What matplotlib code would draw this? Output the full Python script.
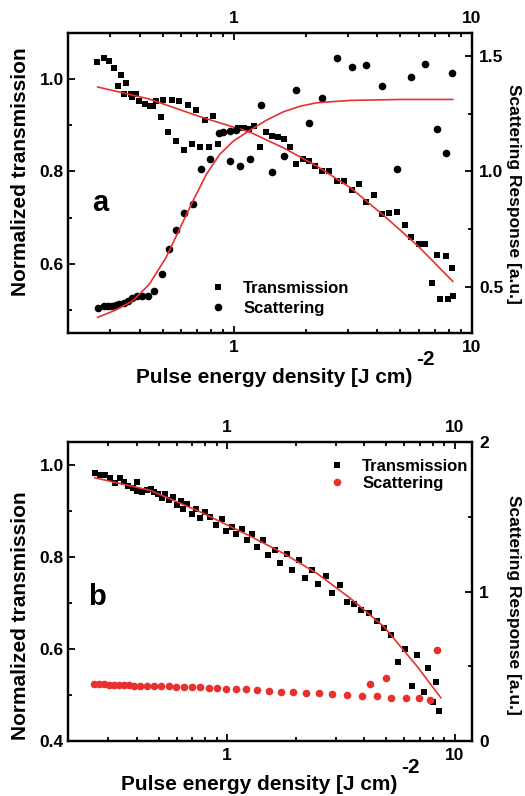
import numpy as np
import matplotlib
matplotlib.use('Agg')
import matplotlib.pyplot as plt
from matplotlib.ticker import FixedLocator, FixedFormatter, NullFormatter, LogLocator
from matplotlib.lines import Line2D

plt.rcParams['font.family'] = ['Liberation Sans', 'DejaVu Sans']
plt.rcParams['font.weight'] = 'bold'

# ---------------- data: panel a ----------------
a_trans_x = [0.265, 0.283, 0.297, 0.313, 0.324, 0.333, 0.344, 0.352, 0.367, 0.373, 0.385, 0.398,
             0.420, 0.441, 0.456, 0.468, 0.492, 0.500, 0.526, 0.546, 0.569, 0.588, 0.614, 0.638,
             0.663, 0.692, 0.720, 0.751, 0.781, 0.817, 0.858, 1.04, 1.10, 1.158, 1.216, 1.289,
             1.363, 1.445, 1.527, 1.614, 1.712, 1.821, 1.943, 2.054, 2.193, 2.340, 2.513, 2.701,
             2.883, 3.116, 3.337, 3.584, 3.864, 4.178, 4.460, 4.836, 5.214, 5.565, 5.977, 6.339,
             6.766, 7.128, 7.362, 7.783, 7.962, 8.227, 8.30]
a_trans_y = [1.037, 1.045, 1.040, 1.025, 0.986, 1.010, 0.968, 0.992, 0.968, 0.961, 0.968, 0.952,
             0.947, 0.942, 0.942, 0.952, 0.917, 0.954, 0.885, 0.954, 0.865, 0.952, 0.847, 0.945,
             0.859, 0.934, 0.852, 0.912, 0.854, 0.921, 0.859, 0.895, 0.894, 0.893, 0.899, 0.853,
             0.885, 0.876, 0.875, 0.870, 0.852, 0.817, 0.826, 0.823, 0.812, 0.801, 0.801, 0.780,
             0.780, 0.759, 0.772, 0.733, 0.748, 0.707, 0.710, 0.712, 0.683, 0.658, 0.642, 0.642,
             0.559, 0.619, 0.524, 0.616, 0.524, 0.590, 0.530]

a_scat_x = [0.2666, 0.2836, 0.2948, 0.3076, 0.3198, 0.3293, 0.3438, 0.3573, 0.3727, 0.3915,
            0.4110, 0.4358, 0.4606, 0.4965, 0.5298, 0.5693, 0.6175, 0.6699, 0.7267, 0.7910,
            0.8637, 0.8982, 0.9585, 1.016, 0.9585, 1.057, 1.166, 1.293, 1.440, 1.614, 1.821,
            2.067, 2.340, 2.701, 3.116, 3.584, 4.178, 4.836, 5.565, 6.339, 7.128, 7.783, 8.227]
a_scat_y = [0.409, 0.416, 0.419, 0.419, 0.420, 0.426, 0.431, 0.438, 0.452, 0.460,
            0.462, 0.462, 0.481, 0.556, 0.662, 0.746, 0.821, 0.860, 1.009, 1.056,
            1.168, 1.171, 1.175, 1.178, 1.045, 1.023, 1.056, 1.290, 0.997, 1.069, 1.353,
            1.211, 1.319, 1.493, 1.454, 1.460, 1.370, 1.012, 1.409, 1.464, 1.186, 1.081, 1.428]

a_tfit_x = [0.2666, 0.4386, 0.7150, 1.166, 1.614, 2.235, 3.096, 4.288, 5.94, 8.30]
a_tfit_y = [0.983, 0.957, 0.919, 0.885, 0.851, 0.811, 0.764, 0.703, 0.638, 0.562]

a_sfit_x = [0.2666, 0.3167, 0.3727, 0.4386, 0.5163, 0.5881, 0.6699, 0.7631, 0.8693, 0.990,
            1.166, 1.371, 1.614, 1.899, 2.235, 3.096, 5.047, 8.30]
a_sfit_y = [0.368, 0.399, 0.438, 0.510, 0.626, 0.749, 0.871, 0.987, 1.074, 1.131,
            1.179, 1.223, 1.259, 1.283, 1.298, 1.308, 1.312, 1.312]

# ---------------- data: panel b ----------------
b_trans_x = [0.2618, 0.2754, 0.2896, 0.3068, 0.3227, 0.3372, 0.3523, 0.3681, 0.3846, 0.4006,
             0.4033, 0.4213, 0.4431, 0.4617, 0.4775, 0.4989, 0.5161, 0.5338, 0.5559, 0.5768,
             0.6006, 0.6255, 0.6426, 0.6692, 0.6993, 0.7306, 0.7608, 0.8003, 0.8417, 0.8976,
             0.9474, 0.9933, 1.0484, 1.0992, 1.1600, 1.2245, 1.2924, 1.3552, 1.4400, 1.5148,
             1.6150, 1.7048, 1.8238, 1.9320, 2.0666, 2.1961, 2.3652, 2.5136, 2.7075, 2.8967,
             3.1196, 3.3492, 3.6076, 3.8592, 4.2000, 4.5394, 4.8889, 5.2297, 5.6521, 6.0456,
             6.5148, 6.8535, 7.3317, 7.6608, 8.0590, 8.2505, 8.5342]
b_trans_y = [0.9827, 0.9783, 0.9769, 0.9718, 0.9610, 0.9718, 0.9625, 0.9538, 0.9487, 0.9632,
             0.9430, 0.9408, 0.9444, 0.9466, 0.9408, 0.9372, 0.9278, 0.9357, 0.9227, 0.9300,
             0.9134, 0.9213, 0.9047, 0.9155, 0.8939, 0.9047, 0.8852, 0.8975, 0.8866, 0.8686,
             0.8816, 0.8556, 0.8650, 0.8505, 0.8606, 0.8361, 0.8491, 0.8217, 0.8375, 0.8036,
             0.8144, 0.7877, 0.8058, 0.7711, 0.7942, 0.7552, 0.7711, 0.7408, 0.7588, 0.7213,
             0.7393, 0.7025, 0.6975, 0.6859, 0.6794, 0.6606, 0.6448, 0.6303, 0.5711, 0.6000,
             0.5199, 0.5866, 0.5061, 0.5581, 0.4859, 0.5285, 0.4657]

b_scat_x = [0.2591, 0.2725, 0.2867, 0.3016, 0.3172, 0.3337, 0.3510, 0.3693, 0.3885, 0.4127,
            0.4446, 0.4758, 0.5143, 0.5540, 0.5966, 0.6446, 0.7016, 0.7633, 0.8306, 0.9037,
            0.9933, 1.0992, 1.2163, 1.3552, 1.5254, 1.7165, 1.9376, 2.2111, 2.5305, 2.8967,
            3.3722, 3.9256, 4.2424, 4.5394, 4.9727, 5.2297, 6.0873, 6.9679, 7.7913, 8.3912]
b_scat_y = [0.383, 0.383, 0.383, 0.378, 0.378, 0.376, 0.374, 0.374, 0.372, 0.372,
            0.372, 0.372, 0.367, 0.370, 0.365, 0.365, 0.360, 0.360, 0.358, 0.354,
            0.352, 0.349, 0.347, 0.343, 0.338, 0.331, 0.327, 0.323, 0.320, 0.316,
            0.307, 0.305, 0.380, 0.300, 0.420, 0.291, 0.287, 0.287, 0.278, 0.610]

b_tfit_x = [0.2618, 0.4600, 0.7633, 1.2666, 1.7759, 2.4887, 3.4873, 4.8889, 6.8535, 8.6765]
b_tfit_y = [0.9718, 0.9444, 0.8975, 0.8448, 0.8072, 0.7639, 0.7097, 0.6484, 0.5617, 0.4946]

x_ticks = [1, 10]
x_ticklabels = ['1', '10']
a_yticks = [0.6, 0.8, 1.0]
a_yticklabels = ['0.6', '0.8', '1.0']
a_yminor = [0.5, 0.7, 0.9]
a_y2ticks = [0.5, 1.0, 1.5]
a_y2ticklabels = ['0.5', '1.0', '1.5']
a_y2minor = [0.75, 1.25]
b_yticks = [0.4, 0.6, 0.8, 1.0]
b_yticklabels = ['0.4', '0.6', '0.8', '1.0']
b_yminor = [0.5, 0.7, 0.9]
b_y2ticks = [0, 1, 2]
b_y2ticklabels = ['0', '1', '2']
b_y2minor = [0.5, 1.5]

RED = '#e8302f'
W, H = 525, 796
SQ_MS = 5.0
CI_MS = 5.5
TICK_FS = 12.5

fig = plt.figure(figsize=(W / 100, H / 100), dpi=100)
ax_a = fig.add_axes([68 / W, 1 - 333 / H, 404 / W, 300 / H])
ax_b = fig.add_axes([68 / W, 1 - 741.3 / H, 404 / W, 299.6 / H])


def style(ax, ax2, xlim, ylim, y2lim, yt, ytl, ym, y2t, y2tl, y2m):
    ax.set_xscale('log')
    ax.set_xlim(*xlim)
    ax.set_ylim(*ylim)
    ax2.set_ylim(*y2lim)
    ax.xaxis.set_major_locator(FixedLocator(x_ticks))
    ax.xaxis.set_major_formatter(FixedFormatter(x_ticklabels))
    ax.xaxis.set_minor_locator(LogLocator(base=10, subs=np.arange(2, 10)))
    ax.xaxis.set_minor_formatter(NullFormatter())
    ax.yaxis.set_major_locator(FixedLocator(yt))
    ax.yaxis.set_major_formatter(FixedFormatter(ytl))
    ax.yaxis.set_minor_locator(FixedLocator(ym))
    ax2.yaxis.set_major_locator(FixedLocator(y2t))
    ax2.yaxis.set_major_formatter(FixedFormatter(y2tl))
    ax2.yaxis.set_minor_locator(FixedLocator(y2m))
    ax2.yaxis.set_minor_formatter(NullFormatter())
    ax.yaxis.set_minor_formatter(NullFormatter())
    ax.tick_params(axis='x', which='both', direction='in', top=True, bottom=True,
                   labeltop=True, labelbottom=True, pad=5, labelsize=TICK_FS, width=1.3)
    ax.tick_params(axis='y', which='both', direction='in', left=True, right=False,
                   pad=3, labelsize=TICK_FS, width=1.3)
    ax2.tick_params(axis='y', which='both', direction='in', right=True, left=False,
                    pad=5, labelsize=TICK_FS, width=1.3)
    for a in (ax, ax2):
        a.tick_params(which='major', length=5)
        a.tick_params(which='minor', length=3)
        for s in a.spines.values():
            s.set_linewidth(1.6)
    for lab in ax.get_xticklabels() + ax.get_yticklabels() + ax2.get_yticklabels():
        lab.set_fontweight('bold')


# ---------- panel a ----------
ax2_a = ax_a.twinx()
ax_a.plot(a_trans_x, a_trans_y, ls='none', marker='s', ms=SQ_MS, color='black', mew=0)
ax_a.plot(a_tfit_x, a_tfit_y, color=RED, lw=1.2)
ax2_a.plot(a_scat_x, a_scat_y, ls='none', marker='o', ms=CI_MS, color='black', mew=0)
ax2_a.plot(a_sfit_x, a_sfit_y, color=RED, lw=1.2)
style(ax_a, ax2_a, (0.2, 10), (0.45, 1.10), (0.30, 1.60),
      a_yticks, a_yticklabels, a_yminor, a_y2ticks, a_y2ticklabels, a_y2minor)
h_a = [Line2D([], [], ls='none', marker='s', ms=SQ_MS, color='black', mew=0),
       Line2D([], [], ls='none', marker='o', ms=CI_MS, color='black', mew=0)]
ax2_a.legend(h_a, ['Transmission', 'Scattering'], loc='upper left',
             bbox_to_anchor=(0.314, 0.223), frameon=False, handlelength=1.0,
             handletextpad=1.0, labelspacing=0.3, borderpad=0.4,
             prop={'size': 12, 'weight': 'bold'})

# ---------- panel b ----------
ax2_b = ax_b.twinx()
ax_b.plot(b_trans_x, b_trans_y, ls='none', marker='s', ms=SQ_MS, color='black', mew=0)
ax_b.plot(b_tfit_x, b_tfit_y, color=RED, lw=1.2)
ax2_b.plot(b_scat_x, b_scat_y, ls='none', marker='o', ms=CI_MS, color=RED, mew=0)
style(ax_b, ax2_b, (0.2, 11.9), (0.4, 1.05), (0, 2),
      b_yticks, b_yticklabels, b_yminor, b_y2ticks, b_y2ticklabels, b_y2minor)
h_b = [Line2D([], [], ls='none', marker='s', ms=SQ_MS, color='black', mew=0),
       Line2D([], [], ls='none', marker='o', ms=CI_MS, color=RED, mew=0)]
ax2_b.legend(h_b, ['Transmission', 'Scattering'], loc='upper left',
             bbox_to_anchor=(0.609, 0.993), frameon=False, handlelength=1.0,
             handletextpad=1.0, labelspacing=0.15, borderpad=0.4,
             prop={'size': 12, 'weight': 'bold'})


def ft(xp, yp, s, **kw):
    fig.text(xp / W, 1 - yp / H, s, fontweight='bold', **kw)


# axis labels
ft(21, 172, 'Normalized transmission', fontsize=15, rotation=90, ha='center', va='center')
ft(21, 616, 'Normalized transmission', fontsize=15, rotation=90, ha='center', va='center')
ft(514, 194, 'Scattering Response [a.u.]', fontsize=12.5, rotation=270, ha='center', va='center')
ft(514, 605, 'Scattering Response [a.u.]', fontsize=12.5, rotation=270, ha='center', va='center')
ft(274, 383, 'Pulse energy density [J cm)', fontsize=15, ha='center', va='baseline')
ft(416, 365, '-2', fontsize=15, ha='left', va='baseline')
ft(259, 790, 'Pulse energy density [J cm)', fontsize=15, ha='center', va='baseline')
ft(401, 773, '-2', fontsize=15, ha='left', va='baseline')

# panel letters
ft(100, 211, 'a', fontsize=21, ha='center', va='baseline')
ft(97, 605, 'b', fontsize=21, ha='center', va='baseline')

fig.savefig('out.png', dpi=100)
